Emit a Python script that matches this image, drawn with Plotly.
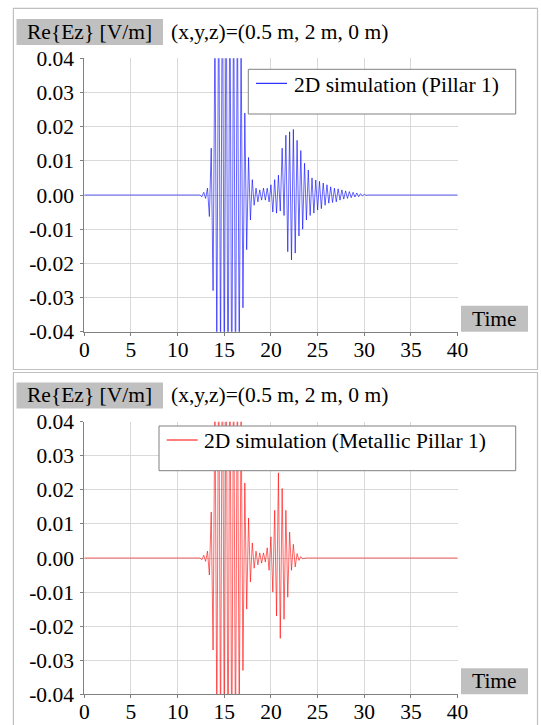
import plotly.graph_objects as go

# ---------------- data ----------------
time_samples = [
    0.0,
    12.4, 12.6, 12.8, 13.0, 13.2, 13.4, 13.6, 13.8, 14.0, 14.2,
    14.4, 14.6, 14.8, 15.0, 15.2, 15.4, 15.6, 15.8, 16.0, 16.2,
    16.4, 16.6, 16.8, 17.0, 17.2, 17.4, 17.6, 17.8, 18.0, 18.2,
    18.4, 18.6, 18.8, 19.0, 19.2, 19.4, 19.6, 19.8, 20.0, 20.2,
    20.4, 20.6, 20.8, 21.0, 21.2, 21.4, 21.6, 21.8, 22.0, 22.2,
    22.4, 22.6, 22.8, 23.0, 23.2, 23.4, 23.6, 23.8, 24.0, 24.2,
    24.4, 24.6, 24.8, 25.0, 25.2, 25.4, 25.6, 25.8, 26.0, 26.2,
    26.4, 26.6, 26.8, 27.0, 27.2, 27.4, 27.6, 27.8, 28.0, 28.2,
    28.4, 28.6, 28.8, 29.0, 29.2, 29.4, 29.6, 29.8, 30.0, 30.2,
    30.4,
    40.0,
]

ez_pillar = [
    0.0,
    0.0, -0.0005, 0.0008, -0.001, 0.002, -0.0063, 0.0137, -0.028, 0.05, -0.045,
    0.065, -0.05, 0.075, -0.06, 0.075, -0.07, 0.07, -0.065, 0.065, -0.06,
    0.06, -0.05, 0.045, -0.033, 0.024, -0.016, 0.011, -0.0073, 0.0045, -0.003,
    0.002, -0.002, 0.0015, -0.0015, 0.002, -0.0015, 0.002, -0.002, 0.003, -0.005,
    0.0045, -0.0053, 0.0058, -0.0047, 0.0137, -0.006, 0.0175, -0.0166, 0.0185, -0.019,
    0.0192, -0.017, 0.016, -0.012, 0.013, -0.010, 0.0093, -0.0073, 0.0073, -0.006,
    0.005, -0.0053, 0.0044, -0.0044, 0.004, -0.004, 0.0035, -0.003, 0.003, -0.0024,
    0.0024, -0.0022, 0.002, -0.002, 0.0018, -0.0015, 0.0015, -0.0012, 0.0012, -0.001,
    0.001, -0.0008, 0.0008, -0.0006, 0.0006, -0.0005, 0.0004, -0.0003, 0.0002, -0.0001,
    0.0,
    0.0,
]

ez_metallic = [
    0.0,
    0.0, -0.0005, 0.0008, -0.001, 0.002, -0.005, 0.0135, -0.027, 0.05, -0.05,
    0.065, -0.055, 0.075, -0.06, 0.075, -0.07, 0.07, -0.065, 0.065, -0.06,
    0.06, -0.05, 0.045, -0.033, 0.022, -0.015, 0.0117, -0.007, 0.0044, -0.003,
    0.002, -0.002, 0.0015, -0.0015, 0.0015, -0.0012, 0.003, -0.0036, 0.0062, -0.010,
    0.014, -0.017, 0.025, -0.0236, 0.0204, -0.018, 0.014, -0.0115, 0.0076, -0.0036,
    0.004, -0.0026, 0.0013, -0.0007, 0.0004, -0.0002, 0.0, 0.0, 0.0, 0.0,
    0.0, 0.0, 0.0, 0.0, 0.0, 0.0, 0.0, 0.0, 0.0, 0.0,
    0.0, 0.0, 0.0, 0.0, 0.0, 0.0, 0.0, 0.0, 0.0, 0.0,
    0.0, 0.0, 0.0, 0.0, 0.0, 0.0, 0.0, 0.0, 0.0, 0.0,
    0.0,
    0.0,
]

assert len(time_samples) == len(ez_pillar) == len(ez_metallic)

y_tick_values = [0.04, 0.03, 0.02, 0.01, 0.0, -0.01, -0.02, -0.03, -0.04]
y_tick_labels = ["0.04", "0.03", "0.02", "0.01", "0.00", "-0.01", "-0.02", "-0.03", "-0.04"]
x_tick_values = [0, 5, 10, 15, 20, 25, 30, 35, 40]
x_tick_labels = ["0", "5", "10", "15", "20", "25", "30", "35", "40"]

series_names = ["2D simulation (Pillar 1)", "2D simulation (Metallic Pillar 1)"]
header_label = "Re{Ez} [V/m]"
header_position = "(x,y,z)=(0.5 m, 2 m, 0 m)"
time_label = "Time"

# ---------------- layout helpers ----------------
W, H = 541, 725
FONT = "Liberation Serif, Times New Roman, serif"
FS = 21.5


def px(x):
    return x / W


def py(y):
    return 1 - y / H


fig = go.Figure()

fig.add_trace(go.Scatter(x=time_samples, y=ez_pillar, mode="lines",
                         line=dict(color="rgba(0,0,255,0.8)", width=0.75),
                         name=series_names[0], showlegend=False,
                         xaxis="x", yaxis="y"))
fig.add_trace(go.Scatter(x=time_samples, y=ez_metallic, mode="lines",
                         line=dict(color="rgba(255,0,0,0.8)", width=0.75),
                         name=series_names[1], showlegend=False,
                         xaxis="x2", yaxis="y2"))

x_left, x_right = 84.3, 457.6
panels = [
    dict(top=58.3, bottom=331.7),
    dict(top=421.7, bottom=694.3),
]

axis_common = dict(
    showgrid=True, gridcolor="#d9d9d9", gridwidth=1,
    zeroline=False, showline=True, linecolor="#808080", linewidth=1,
    ticks="outside", ticklen=3, tickcolor="#808080",
    tickfont=dict(family=FONT, size=FS, color="black"),
    fixedrange=True, automargin=False,
)

layout = dict(
    width=W, height=H, autosize=False,
    margin=dict(l=0, r=0, t=0, b=0, pad=0),
    paper_bgcolor="white", plot_bgcolor="white",
    font=dict(family=FONT, size=FS, color="black"),
    showlegend=False,
)

for i, p in enumerate(panels):
    sfx = "" if i == 0 else "2"
    layout["xaxis" + sfx] = dict(
        axis_common, domain=[px(x_left), px(x_right)], range=[0, 40],
        tickvals=x_tick_values, ticktext=x_tick_labels,
        anchor="y" + sfx, ticklabelstandoff=-5,
    )
    layout["yaxis" + sfx] = dict(
        axis_common, domain=[py(p["bottom"]), py(p["top"])], range=[-0.04, 0.04],
        tickvals=y_tick_values, ticktext=y_tick_labels,
        anchor="x" + sfx, ticklabelstandoff=2,
    )

shapes = []
annotations = []

frames = [(13.4, 8.3, 537.5, 369.5), (13.4, 372.5, 537.5, 728)]
legend_boxes = [(248.3, 69.3, 515.7, 114.0), (159.0, 426.0, 515.7, 470.7)]
line_colors = ["#0000ff", "#ff0000"]

for i, p in enumerate(panels):
    off = 0 if i == 0 else 363.4
    fx0, fy0, fx1, fy1 = frames[i]
    shapes.append(dict(type="rect", xref="paper", yref="paper",
                       x0=px(fx0), x1=px(fx1), y0=py(fy1), y1=py(fy0),
                       line=dict(color="#c0c0c0", width=1.2), layer="below"))
    # header gray box
    shapes.append(dict(type="rect", xref="paper", yref="paper",
                       x0=px(16.5), x1=px(163), y0=py(45 + off), y1=py(19 + off),
                       fillcolor="#c0c0c0", line=dict(width=0), layer="above"))
    annotations.append(dict(xref="paper", yref="paper", x=px(89.7), y=py(31.5 + off),
                            text=header_label, showarrow=False,
                            xanchor="center", yanchor="middle",
                            font=dict(family=FONT, size=FS, color="black")))
    annotations.append(dict(xref="paper", yref="paper", x=px(169), y=py(31.5 + off),
                            text=header_position, showarrow=False,
                            xanchor="left", yanchor="middle",
                            font=dict(family=FONT, size=FS, color="black")))
    # Time box
    shapes.append(dict(type="rect", xref="paper", yref="paper",
                       x0=px(461), x1=px(528), y0=py(p["bottom"]), y1=py(p["bottom"] - 26),
                       fillcolor="#c0c0c0", line=dict(width=0), layer="above"))
    annotations.append(dict(xref="paper", yref="paper", x=px(494.5), y=py(p["bottom"] - 13),
                            text=time_label, showarrow=False,
                            xanchor="center", yanchor="middle",
                            font=dict(family=FONT, size=FS, color="black")))
    # legend box
    lx0, ly0, lx1, ly1 = legend_boxes[i]
    shapes.append(dict(type="rect", xref="paper", yref="paper",
                       x0=px(lx0), x1=px(lx1), y0=py(ly1), y1=py(ly0),
                       fillcolor="white", line=dict(color="#808080", width=1),
                       layer="above"))
    shapes.append(dict(type="line", xref="paper", yref="paper",
                       x0=px(lx0 + 7.7), x1=px(lx0 + 38.7), y0=py(ly0 + 14), y1=py(ly0 + 14),
                       line=dict(color=line_colors[i], width=1), layer="above"))
    annotations.append(dict(xref="paper", yref="paper", x=px(lx0 + 43.4), y=py(ly0 + 15.5),
                            text=series_names[i], showarrow=False,
                            xanchor="left", yanchor="middle",
                            font=dict(family=FONT, size=FS, color="black")))

layout["shapes"] = shapes
layout["annotations"] = annotations
fig.update_layout(**layout)

fig.write_html(
    "out.html",
    config=dict(displayModeBar=False),
    post_script="document.body.style.margin='0';document.body.style.overflow='hidden';",
)
